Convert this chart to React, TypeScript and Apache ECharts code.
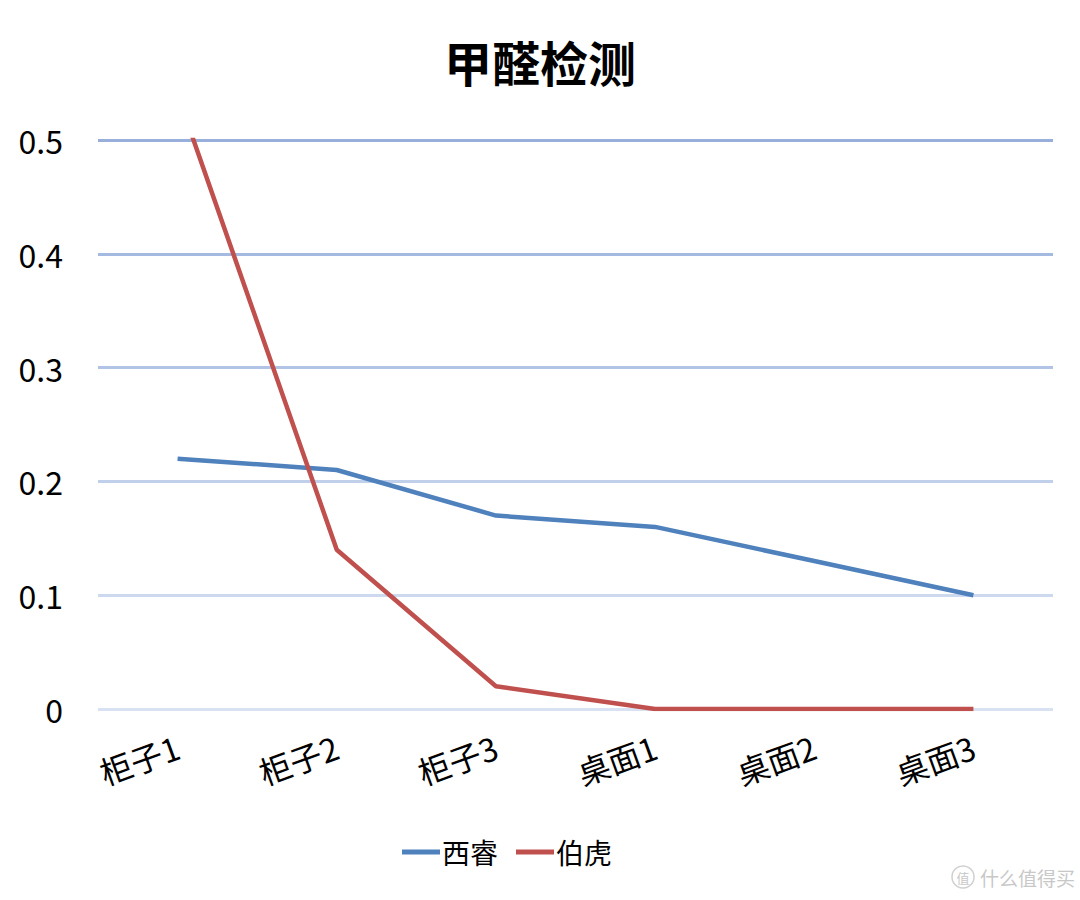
import React, { useEffect, useRef } from "react";
import * as echarts from "echarts";

const categories = ["柜子1", "柜子2", "柜子3", "桌面1", "桌面2", "桌面3"];
const xiruiValues = [0.22, 0.21, 0.17, 0.16, 0.13, 0.1];
const bohuValues = [0.54, 0.14, 0.02, 0, 0, 0];
const seriesNames = ["西睿", "伯虎"];
const gridColors = ["#D9E2F3", "#CDD9EF", "#C0CFEA", "#B2C4E5", "#A5BAE1", "#98AFDC"];

const FONT = '"Noto Sans CJK SC", "Noto Sans", sans-serif';

export default function App() {
  const ref = useRef<HTMLDivElement>(null);
  useEffect(() => {
    if (!ref.current) return;
    const chart = echarts.init(ref.current, null, { renderer: "svg" });
    chart.setOption({
      animation: false,
      backgroundColor: "#ffffff",
      title: {
        text: "甲醛检测",
        left: "center",
        top: 32,
        textStyle: { fontFamily: FONT, fontSize: 48, fontWeight: "bold", color: "#000" },
      },
      grid: { left: 98, right: 27, top: 140, bottom: 191, containLabel: false },
      legend: {
        top: 833,
        left: 397,
        itemWidth: 38,
        itemHeight: 5,
        itemGap: 18,
        icon: "rect",
        textStyle: { fontFamily: FONT, fontSize: 28, color: "#000", padding: [0, 0, 0, -3] },
        data: seriesNames,
      },
      xAxis: {
        type: "category",
        data: categories,
        boundaryGap: true,
        axisLine: { show: false },
        axisTick: { show: false },
        axisLabel: {
          rotate: 20,
          margin: 36,
          fontFamily: FONT,
          fontSize: 32,
          color: "#000",
        },
      },
      yAxis: {
        type: "value",
        min: 0,
        max: 0.5,
        interval: 0.1,
        axisLine: { show: false },
        axisTick: { show: false },
        axisLabel: {
          margin: 35,
          fontFamily: FONT,
          fontSize: 32,
          color: "#000",
          formatter: (v: number) => (v === 0 ? "0" : String(Math.round(v * 10) / 10)),
        },
        splitLine: { lineStyle: { color: gridColors, width: 3 } },
      },
      series: [
        {
          name: seriesNames[0],
          type: "line",
          data: xiruiValues,
          symbol: "none",
          clip: true,
          lineStyle: { color: "#4F81BD", width: 4.5 },
          itemStyle: { color: "#4F81BD" },
        },
        {
          name: seriesNames[1],
          type: "line",
          data: bohuValues,
          symbol: "none",
          clip: true,
          lineStyle: { color: "#C0504D", width: 4.5 },
          itemStyle: { color: "#C0504D" },
        },
      ],
      graphic: [
        {
          type: "circle",
          shape: { cx: 963, cy: 877, r: 11 },
          style: { fill: "none", stroke: "#d0d0d0", lineWidth: 1.5 },
        },
        {
          type: "text",
          x: 963,
          y: 877,
          style: {
            text: "值",
            fontFamily: FONT,
            fontSize: 13,
            fill: "#c8c8c8",
            align: "center",
            verticalAlign: "middle",
          },
        },
        {
          type: "text",
          x: 980,
          y: 877,
          style: {
            text: "什么值得买",
            fontFamily: FONT,
            fontSize: 19,
            fill: "#c8c8c8",
            verticalAlign: "middle",
          },
        },
      ],
    });
    return () => chart.dispose();
  }, []);
  return <div ref={ref} style={{ width: 1080, height: 900, position: "absolute", left: 0, top: 0 }} />;
}
